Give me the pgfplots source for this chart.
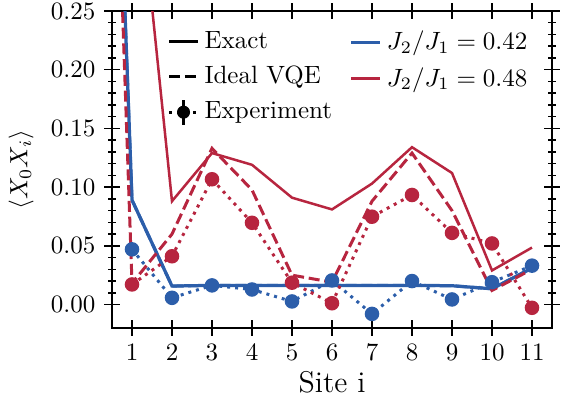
\documentclass[border=0pt]{standalone}
\usepackage{pgfplots}
\pgfplotsset{compat=1.18}
\definecolor{jblue}{HTML}{2C5EAA}
\definecolor{jred}{HTML}{B7253F}
\tikzset{
  exact/.style={line width=1.2pt},
  vqe/.style={line width=1.2pt, dash pattern=on 4.4pt off 1.9pt},
  expt/.style={line width=1.2pt, dash pattern=on 1.2pt off 2pt, mark=*, mark size=2.3pt,
    mark options={solid}},
}
\pgfplotsset{
  legbase/.style={
    legend style={draw=none, fill=none, font=\normalsize, row sep=3.5pt,
      nodes={inner sep=1pt},
      /tikz/every odd column/.append style={column sep=1pt}},
    legend cell align=left,
    legend image code/.code={\draw[##1] (0pt,0pt) -- (11.6pt,0pt);},
  }
}

\begin{document}
\begin{tikzpicture}
\begin{axis}[
  name=main,
  scale only axis,
  width=176pt, height=126.8pt,
  xmin=0.5, xmax=11.5,
  ymin=-0.02, ymax=0.25,
  xtick={1,2,3,4,5,6,7,8,9,10,11},
  ytick={0,0.05,0.1,0.15,0.2,0.25},
  minor y tick num=4,
  tick align=center,
  major tick length=6.3pt,
  minor tick length=3pt,
  tick style={black, line width=0.6pt},
  axis line style={line width=0.8pt},
  yticklabel style={/pgf/number format/.cd, fixed, fixed zerofill, precision=2},
  xlabel={Site i},
  xlabel style={font=\large, yshift=2.5pt},
  ylabel={$\langle X_0X_i\rangle$},
  legbase,
  legend style={at={(rel axis cs:0.108,0.962)}, anchor=north west},
]
% J2/J1 = 0.42
\addplot[jblue, exact, line width=1.3pt, forget plot] coordinates {
  (0,1.0) (1,0.089) (2,0.0157) (3,0.0163) (4,0.0163) (5,0.0163) (6,0.0163)
  (7,0.0163) (8,0.0163) (9,0.016) (10,0.0134) (11,0.031)
};
\addplot[jblue, vqe, forget plot] coordinates {
  (0,1.0) (1,0.089) (2,0.0157) (3,0.0163) (4,0.0163) (5,0.0163) (6,0.0163)
  (7,0.0163) (8,0.0163) (9,0.016) (10,0.0134) (11,0.031)
};
\addplot[jblue, expt, forget plot] coordinates {
  (1,0.047) (2,0.0057) (3,0.0163) (4,0.0128) (5,0.0026) (6,0.0205)
  (7,-0.008) (8,0.020) (9,0.0043) (10,0.019) (11,0.0331)
};
% J2/J1 = 0.48
\addplot[jred, exact, line width=1.0pt, forget plot] coordinates {
  (0,1.0) (1,0.419) (2,0.088) (3,0.129) (4,0.119) (5,0.091) (6,0.081)
  (7,0.103) (8,0.134) (9,0.112) (10,0.029) (11,0.0485)
};
\addplot[jred, vqe, forget plot] coordinates {
  (0,1.0) (1,0.018) (2,0.060) (3,0.133) (4,0.0976) (5,0.025) (6,0.019)
  (7,0.088) (8,0.129) (9,0.080) (10,0.012) (11,0.030)
};
\addplot[jred, expt, forget plot] coordinates {
  (1,0.0171) (2,0.0411) (3,0.1067) (4,0.0696) (5,0.0186) (6,0.0011)
  (7,0.0748) (8,0.0933) (9,0.061) (10,0.052) (11,-0.0028)
};
\addlegendimage{black, exact}
\addlegendentry{Exact}
\addlegendimage{black, vqe}
\addlegendentry{Ideal VQE}
\addlegendimage{legend image code/.code={
  \draw[black, line width=1.2pt, dash pattern=on 1.2pt off 2pt] (0pt,0pt) -- (11.6pt,0pt);
  \draw[black, line width=1.2pt] (5.8pt,-5pt) -- (5.8pt,5pt);
  \fill[black] (5.8pt,0pt) circle (2.4pt);}}
\addlegendentry{Experiment}
\end{axis}
\begin{axis}[
  at={(main.south west)}, anchor=south west,
  scale only axis,
  width=176pt, height=126.8pt,
  xmin=0.5, xmax=11.5, ymin=-0.02, ymax=0.25,
  hide axis,
  legbase,
  legend style={at={(rel axis cs:0.522,0.962)}, anchor=north west},
]
\addlegendimage{jblue, line width=1.3pt}
\addlegendentry{$J_2/J_1=0.42$}
\addlegendimage{jred, line width=1.2pt}
\addlegendentry{$J_2/J_1=0.48$}
\end{axis}
\pgfresetboundingbox
\path ([xshift=-44.8pt,yshift=-29.2pt]main.south west) rectangle ([xshift=6.4pt,yshift=4.4pt]main.north east);
\end{tikzpicture}
\end{document}
